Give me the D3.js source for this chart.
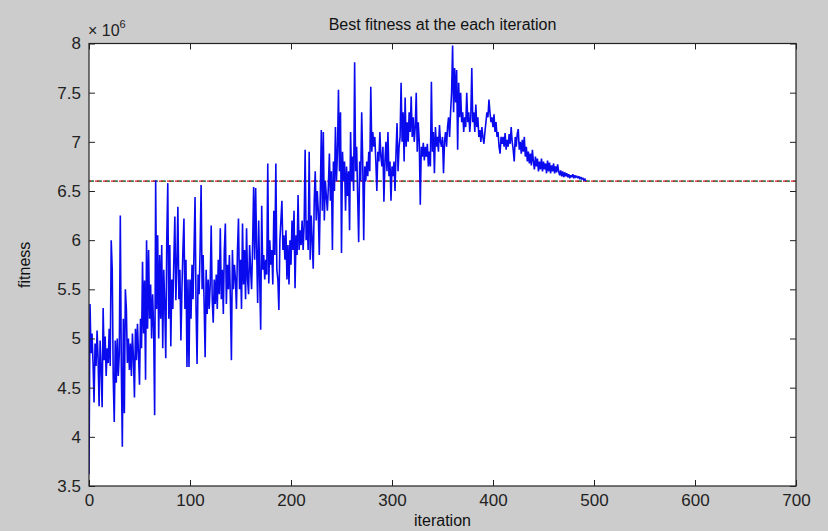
<!DOCTYPE html>
<html>
<head>
<meta charset="utf-8">
<script src="https://cdn.jsdelivr.net/npm/d3@7.9.0/dist/d3.min.js"></script>
<style>
  html, body { margin: 0; padding: 0; background: #cccccc; }
  svg { display: block; font-family: "Liberation Sans", Arial, sans-serif; }
</style>
</head>
<body>
<div id="chart"></div>
<script>
// ---------- DATA ----------
// best fitness per iteration (x 1e6)
const fitness = [
  3.62, 5.35, 4.85, 5.05, 4.75, 4.35, 4.95, 4.72, 5.08, 4.8,
  4.31, 4.98, 4.7, 4.3, 5.31, 4.78, 5.02, 4.62, 4.9, 4.75,
  5.1, 4.72, 6.0, 5.7, 4.6, 4.15, 4.98, 4.55, 5.0, 4.62,
  4.85, 6.25, 4.7, 3.9, 5.2, 4.24, 5.5, 5.3, 4.75, 5.0,
  4.68, 4.95, 4.62, 5.05, 4.8, 4.4, 5.1, 4.78, 5.15, 4.85,
  4.53, 5.2, 4.9, 5.78, 5.05, 5.59, 4.58, 6.0, 5.1, 5.9,
  5.2, 5.55, 5.0, 5.45, 5.1, 4.22, 6.61, 5.3, 6.05, 5.0,
  5.85, 5.2, 5.95, 4.9, 5.7, 5.35, 4.8, 6.0, 6.58, 5.2,
  5.95, 4.92, 5.6, 5.3, 5.8, 6.24, 5.39, 5.75, 6.34, 5.4,
  5.7, 4.98, 5.5, 5.9, 6.22, 5.3, 5.8, 4.71, 5.6, 4.71,
  5.6, 5.2, 5.75, 5.4, 5.9, 6.44, 5.3, 4.74, 5.65, 5.45,
  5.9, 6.56, 5.5, 5.85, 5.35, 4.81, 5.7, 5.25, 5.6, 5.3,
  5.55, 6.15, 5.4, 5.16, 5.6, 5.35, 5.65, 5.3, 5.8, 5.45,
  6.12, 5.4, 5.7, 5.25, 5.9, 6.17, 5.35, 5.75, 5.5, 5.85,
  5.4, 4.78, 5.9, 5.5, 5.75, 5.6, 5.3, 5.9, 6.22, 5.5,
  5.8, 5.3, 6.17, 5.55, 5.9, 5.4, 6.12, 5.6, 5.45, 5.95,
  5.7, 5.5, 5.95, 6.54, 5.8, 6.53, 5.9, 5.36, 6.2, 5.6,
  5.09, 6.35, 5.7, 5.85, 5.6, 5.8, 5.65, 6.78, 5.56, 6.0,
  5.75, 5.9, 5.55, 6.3, 5.85, 6.78, 5.7, 5.6, 5.29, 6.0,
  6.2, 6.4, 5.9, 6.05, 5.8, 6.1, 5.6, 5.95, 5.55, 6.0,
  5.75, 6.2, 5.9, 6.3, 5.51, 6.05, 5.85, 6.46, 5.9, 6.1,
  5.95, 6.2, 5.9, 6.15, 6.92, 6.0, 6.2, 5.9, 6.9, 5.8,
  6.25, 6.0, 5.71, 6.4, 6.7, 6.2, 6.5, 6.3, 5.85, 6.45,
  7.12, 6.3, 7.1, 6.2, 6.6, 6.45, 6.3, 6.55, 6.88, 6.4,
  6.7, 5.9, 6.8, 6.5, 7.15, 6.6, 6.9, 7.53, 6.7, 7.3,
  5.87, 6.9, 6.6, 6.8, 6.3, 6.75, 6.45, 6.7, 6.1, 7.1,
  6.6, 6.85, 6.5, 7.81, 6.7, 6.95, 6.45, 5.98, 6.8, 6.6,
  7.3, 6.8, 6.0, 6.75, 6.6, 6.8, 6.65, 6.9, 6.7, 7.56,
  6.9, 7.1, 6.95, 7.05, 6.8, 6.5, 6.9, 6.8, 7.1, 6.85,
  6.75, 6.95, 6.39, 6.8, 7.0, 6.7, 7.1, 6.65, 6.8, 6.4,
  6.75, 6.65, 6.8, 6.5, 6.9, 7.19, 6.7, 6.95, 7.05, 7.6,
  7.0, 7.3, 6.8, 7.45, 6.95, 7.2, 7.0, 7.3, 7.1, 7.46,
  7.05, 7.25, 7.0, 7.15, 7.5, 6.9, 7.2, 7.0, 6.36, 6.95,
  6.85, 6.99, 6.81, 6.95, 6.85, 6.98, 6.75, 6.9, 6.75, 7.61,
  6.9, 7.1, 6.68, 7.15, 6.95, 7.05, 6.9, 7.17, 7.0, 6.95,
  7.05, 6.68, 7.0, 7.1, 6.95, 7.15, 7.25, 7.05, 7.3, 7.5,
  7.98, 7.3, 7.75, 7.4, 7.73, 6.92, 7.6, 7.25, 7.5, 7.2,
  7.3, 7.1, 7.25, 7.15, 7.5, 7.2, 7.3, 7.1, 7.25, 7.75,
  7.2, 7.3, 7.1, 7.38, 7.15, 7.25, 7.05, 7.12, 7.0, 7.15,
  7.05, 6.98, 7.1, 7.2, 7.3, 7.25, 7.43, 7.3, 7.2, 7.25,
  7.15, 7.28, 7.1, 7.2, 7.05, 7.1, 6.95, 6.88, 7.05, 6.98,
  7.05, 6.95, 7.09, 6.92, 7.02, 6.95, 7.08, 6.98, 7.15, 7.0,
  6.92, 6.8, 7.05, 6.95, 7.08, 7.13, 6.92, 7.0, 6.88, 7.02,
  6.9, 7.05, 6.85, 6.95, 6.8, 6.9, 6.78, 6.88, 6.76, 6.92,
  6.8, 6.72, 6.85, 6.75, 6.83, 6.7, 6.8, 6.72, 6.83, 6.7,
  6.8, 6.72, 6.78, 6.68, 6.81, 6.7, 6.79, 6.68, 6.76, 6.7,
  6.78, 6.68, 6.75, 6.69, 6.77, 6.7, 6.66, 6.71, 6.65, 6.7,
  6.64, 6.69, 6.65, 6.68, 6.64, 6.67, 6.63, 6.66, 6.64, 6.67,
  6.63, 6.66, 6.64, 6.65, 6.63, 6.65, 6.62, 6.64, 6.62, 6.63,
  6.61, 6.62, 6.6
];

const refLevel = 6.6;          // dashed reference line (x 1e6)
const refRange = [0, 700];
const xTicks = [0, 100, 200, 300, 400, 500, 600, 700];
const yTicks = [3.5, 4, 4.5, 5, 5.5, 6, 6.5, 7, 7.5, 8];

// ---------- LAYOUT ----------
const width = 828;
const height = 531;
const margin = { top: 43.5, right: 32, bottom: 45, left: 89 };
const inner = {
  left: margin.left,
  right: width - margin.right,
  top: margin.top,
  bottom: height - margin.bottom,
};

const svg = d3
  .select('#chart')
  .append('svg')
  .attr('width', width)
  .attr('height', height);

svg.append('rect').attr('width', width).attr('height', height).attr('fill', '#cccccc');

const x = d3.scaleLinear().domain([0, 700]).range([inner.left, inner.right]);
const y = d3.scaleLinear().domain([3.5, 8]).range([inner.bottom, inner.top]);

// plot area
svg
  .append('rect')
  .attr('x', inner.left)
  .attr('y', inner.top)
  .attr('width', inner.right - inner.left)
  .attr('height', inner.bottom - inner.top)
  .attr('fill', '#ffffff');

// ---------- LINES ----------
svg.append('clipPath').attr('id', 'clip')
  .append('rect')
  .attr('x', inner.left)
  .attr('y', inner.top)
  .attr('width', inner.right - inner.left)
  .attr('height', inner.bottom - inner.top);

const plot = svg.append('g').attr('clip-path', 'url(#clip)');

// overlaid dashed reference lines (dark, red, green)
const refLine = d3.line().x((d) => x(d)).y(() => y(refLevel));
const dashes = [
  { color: '#303050', dash: '5,3', offset: 0 },
  { color: '#d02020', dash: '4,4', offset: 2 },
  { color: '#20a020', dash: '2,6', offset: 6 },
];
dashes.forEach((s) => {
  plot
    .append('path')
    .datum(refRange)
    .attr('d', refLine)
    .attr('fill', 'none')
    .attr('stroke', s.color)
    .attr('stroke-width', 1.1)
    .attr('stroke-dasharray', s.dash)
    .attr('stroke-dashoffset', s.offset);
});

const line = d3.line()
  .x((d, i) => x(i))
  .y((d) => y(d));

plot
  .append('path')
  .datum(fitness)
  .attr('d', line)
  .attr('fill', 'none')
  .attr('stroke', '#0a0aee')
  .attr('stroke-width', 1.6)
  .attr('stroke-linejoin', 'miter')
  .attr('stroke-miterlimit', 2);

// ---------- AXES ----------
const tickLen = 6;
const styleAxis = (g) => {
  g.select('.domain').remove();
  g.selectAll('.tick line').attr('stroke', '#222');
  g.selectAll('.tick text')
    .attr('fill', '#222')
    .style('font-size', '17px')
    .style('font-family', '"Liberation Sans", Arial, sans-serif');
};

svg.append('g')
  .attr('transform', `translate(0,${inner.bottom})`)
  .call(d3.axisBottom(x).tickValues(xTicks).tickSize(-tickLen).tickPadding(8))
  .call(styleAxis);

svg.append('g')
  .attr('transform', `translate(0,${inner.top})`)
  .call(d3.axisTop(x).tickValues(xTicks).tickSize(-tickLen).tickFormat(''))
  .call(styleAxis);

svg.append('g')
  .attr('transform', `translate(${inner.left},0)`)
  .call(d3.axisLeft(y).tickValues(yTicks).tickSize(-tickLen).tickPadding(8).tickFormat(d3.format('')))
  .call(styleAxis);

svg.append('g')
  .attr('transform', `translate(${inner.right},0)`)
  .call(d3.axisRight(y).tickValues(yTicks).tickSize(-tickLen).tickFormat(''))
  .call(styleAxis);

// box
svg
  .append('rect')
  .attr('x', inner.left)
  .attr('y', inner.top)
  .attr('width', inner.right - inner.left)
  .attr('height', inner.bottom - inner.top)
  .attr('fill', 'none')
  .attr('stroke', '#222')
  .attr('stroke-width', 1.2);

// ---------- TEXT ----------
svg.append('text')
  .attr('x', (inner.left + inner.right) / 2)
  .attr('y', 30)
  .attr('text-anchor', 'middle')
  .attr('fill', '#111')
  .style('font-size', '16px')
  .text('Best fitness at the each iteration');

svg.append('text')
  .attr('x', (inner.left + inner.right) / 2)
  .attr('y', 526)
  .attr('text-anchor', 'middle')
  .attr('fill', '#111')
  .style('font-size', '16px')
  .text('iteration');

svg.append('text')
  .attr('transform', `translate(30,${(inner.top + inner.bottom) / 2}) rotate(-90)`)
  .attr('text-anchor', 'middle')
  .attr('fill', '#111')
  .style('font-size', '16px')
  .text('fitness');

const expo = svg.append('text')
  .attr('x', 88)
  .attr('y', 36)
  .attr('fill', '#222')
  .style('font-size', '16px');
expo.append('tspan').text('\u00d7 10');
expo.append('tspan').attr('dy', -8).style('font-size', '11px').text('6');
</script>
</body>
</html>
